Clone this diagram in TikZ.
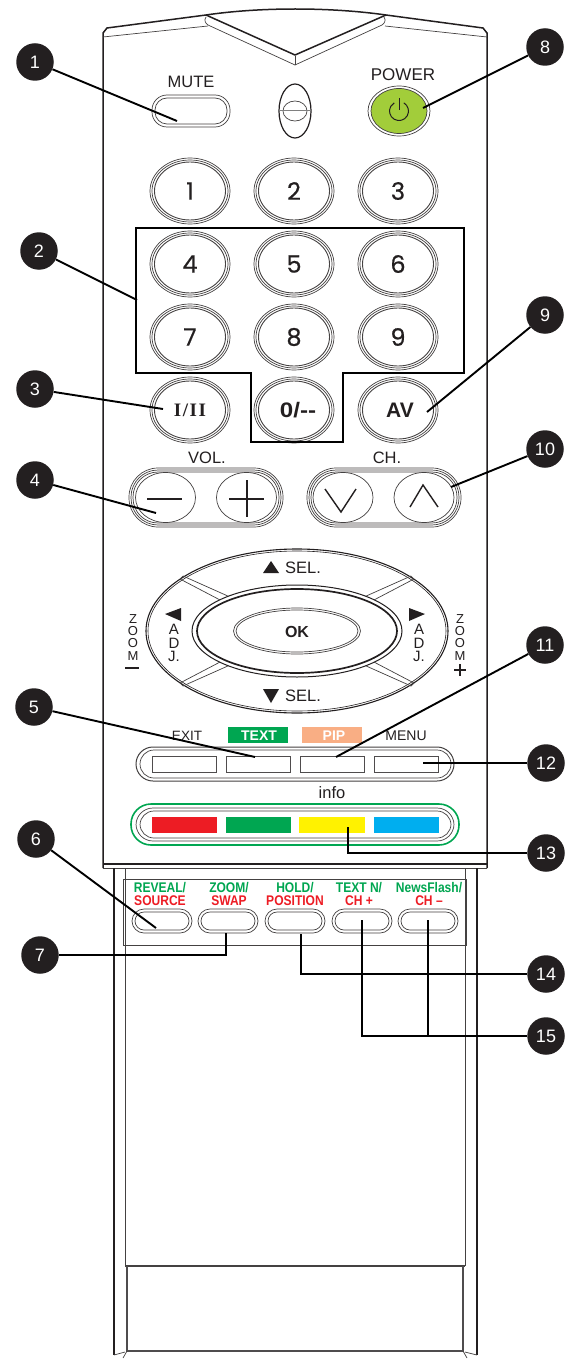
\documentclass[tikz,border=0pt]{standalone}
\usepackage{fontspec}
\setmainfont{Liberation Sans}
\newfontfamily\digitfont[FakeBold=0.5]{Poppins}
\newfontfamily\romfont[LetterSpace=8]{Liberation Serif}
\usetikzlibrary{shapes.geometric,calc}
\definecolor{ink}{HTML}{231F20}
\definecolor{greengr}{HTML}{00A651}
\definecolor{redgr}{HTML}{ED1C24}
\definecolor{pipc}{HTML}{F9AE84}
\definecolor{powc}{HTML}{A2CD3A}
\definecolor{yelc}{HTML}{FFF200}
\definecolor{bluc}{HTML}{00AEEF}
\tikzset{
  x=1pt,y=-1pt,
  body/.style={draw=ink,line width=1.5pt},
  thin line/.style={draw=ink!85,line width=.7pt},
  leader/.style={draw=black,line width=1.9pt},
  callout/.style={circle,fill=ink,text=white,minimum size=37.5pt,inner sep=0pt,font=\fontsize{18}{18}\selectfont},
  lab/.style={inner sep=0pt,text=ink,font=\fontsize{16.5}{16.5}\selectfont},
  labsmall/.style={inner sep=0pt,text=ink,font=\fontsize{14}{14}\selectfont},
  stacklab/.style={inner sep=0pt,text=ink,font=\fontsize{15}{12}\selectfont},
  numlab/.style={inner sep=0pt,text=ink,font=\fontsize{24}{24}\digitfont},
  glab/.style={inner sep=0pt,text=greengr,font=\fontsize{14}{14}\selectfont\bfseries,xscale=.86,transform shape},
  rlab/.style={inner sep=0pt,text=redgr,font=\fontsize{14}{14}\selectfont\bfseries,xscale=.86,transform shape},
  key/.style={draw=ink!80,line width=.9pt,fill=white},
}
\newcommand{\ringkey}[2]{%
  \draw[thin line] (#1,#2) ellipse [x radius=40,y radius=33];
  \draw[thin line] (#1,#2) ellipse [x radius=38,y radius=31];
  \draw[thin line,line width=.9pt] (#1,#2) ellipse [x radius=35.5,y radius=29];
}
\begin{document}
\begin{tikzpicture}
\useasboundingbox (0,0) rectangle (568,1359);
\fill[white] (0,0) rectangle (568,1359);

% housing
\draw[body] (103,868) -- (103,33) -- (107,28) -- (206,15) .. controls (260,7) and (330,7) .. (386,15) -- (483,28) -- (487,33) -- (487,868);
\draw[thin line] (103,37) -- (208,26);
\draw[thin line] (487,37) -- (385,26);
\draw[body] (206,15) -- (295,55) -- (386,15);
\draw[thin line] (206,17) .. controls (204,20) and (205,23) .. (208,25) -- (295,65) -- (382,25) .. controls (385,23) and (386,20) .. (384,17);
\draw[thin line] (295,56) -- (295,65);
\draw[body] (103,864) -- (487,864);
\draw[thin line] (103,868) -- (487,868);
\draw[body] (114,868) -- (114,1355);
\draw[body] (477,868) -- (477,1355);
\draw[thin line] (125,868) -- (125,1266);
\draw[thin line] (465,868) -- (465,1266);
\draw[thin line,line width=1pt] (123,879) rectangle (466,945);
\draw[thin line,line width=1.4pt] (125,1266) -- (465,1266);
\draw[body,draw=ink!80] (127,1266) -- (127,1351) -- (463,1351) -- (463,1266);
\draw[thin line] (127,1351) -- (123,1358);
\draw[thin line] (463,1351) -- (467,1358);
\draw[thin line] (114,1355) -- (125,1352);
\draw[thin line] (477,1355) -- (465,1352);

% top keys
\node[lab] (mutelab) at (191,82) {MUTE};
\draw[thin line,rounded corners=15pt] (152,95) rectangle (230,127);
\draw[thin line,rounded corners=12pt] (155,98) rectangle (227,124);
\draw[ink,line width=1.2pt] (295,111) ellipse [x radius=16,y radius=27];
\draw[thin line] (295,111) ellipse [x radius=12,y radius=10];
\draw[gray,line width=1pt] (279,111) -- (311,111);
\node[inner sep=0pt,text=ink,font=\fontsize{17}{17}\selectfont] (powerlab) at (403,75) {POWER};
\draw[thin line] (399,111) ellipse [x radius=31,y radius=25];
\draw[thin line,fill=powc] (399,111) ellipse [x radius=28,y radius=22.5];
\draw[ink,line width=1pt] (403.75,102.8) arc [start angle=-60,end angle=240,radius=9.5];
\draw[ink,line width=1pt] (399,98) -- (399,110);

% number pad
\foreach \px/\py/\pt in {190/191/1,294/191/2,398/191/3,190/264/4,294/264/5,398/264/6,190/337/7,294/337/8,398/337/9}{
  \ringkey{\px}{\py}
  \node[numlab] at (\px,\py) {\pt};
}
\ringkey{190}{410}\ringkey{294}{410}\ringkey{398}{410}
\node[inner sep=0pt,text=ink,font=\fontsize{19}{19}\romfont\bfseries] (k12) at (190,410) {I/II};
\node[inner sep=0pt,text=ink,font=\fontsize{21}{21}\selectfont\bfseries,xscale=1.15,transform shape] (k0) at (298,410) {0/-{}-};
\node[inner sep=0pt,text=ink,font=\fontsize{21}{21}\selectfont\bfseries] (kav) at (400,410) {AV};
\draw[draw=black,line width=2pt] (136,228) -- (464,228) -- (464,373) -- (343,373) -- (343,442) -- (251,442) -- (251,373) -- (136,373) -- cycle;

% vol / ch
\node[lab] (vollab) at (207,458) {VOL.};
\node[lab] (chlab) at (387,458) {CH.};
\foreach \xa/\xb/\xc/\xd in {129/283/165.5/246.5,307/461/343/424}{
  \draw[thin line,rounded corners=29pt] (\xa,468) rectangle (\xb,527);
  \draw[thin line,rounded corners=27pt] ({\xa+2},470) rectangle ({\xb-2},525);
  \draw[thin line,rounded corners=25pt] ({\xa+4},472) rectangle ({\xb-4},523);
  \draw[thin line] (\xc,497.5) ellipse [x radius=30,y radius=25];
  \draw[thin line] (\xd,497.5) ellipse [x radius=30,y radius=25];
}
\draw[ink,line width=1.4pt] (147,499) -- (182,499);
\draw[ink,line width=1.4pt] (229,499) -- (264,499) (247,480) -- (247,517);
\draw[ink,line width=1.4pt] (325,489) -- (341,512) -- (356,489);
\draw[ink,line width=1.4pt] (410,507) -- (423,485) -- (438,507);

% navigation
\draw[ink,line width=1.1pt] (297,631) ellipse [x radius=151,y radius=82];
\draw[ink,line width=.6pt] (297,631) ellipse [x radius=149,y radius=80];
\foreach \sx/\sy in {1/1,-1/1,1/-1,-1/-1}{
  \draw[thin line] ({297+\sx*117},{631+\sy*(-52)}) -- ({297+\sx*75},{631+\sy*(-30)});
  \draw[thin line] ({297+\sx*114},{631+\sy*(-55)}) -- ({297+\sx*67},{631+\sy*(-34)});
  \draw[thin line] ({297+\sx*117},{631+\sy*(-52)}) -- ({297+\sx*114},{631+\sy*(-55)});
}
\draw[ink,line width=1pt,fill=white] (297,631) ellipse [x radius=105,y radius=46];
\draw[ink,line width=1.7pt] (297,631) ellipse [x radius=100,y radius=42];
\draw[thin line] (297,631) ellipse [x radius=63.5,y radius=23];
\draw[thin line] (297,631) ellipse [x radius=61,y radius=21];
\node[inner sep=0pt,text=ink,font=\fontsize{16}{16}\selectfont\bfseries] (ok) at (297,632) {OK};
\fill[ink] (263,573) -- (279,573) -- (271,561) -- cycle;
\fill[ink] (263,689) -- (279,689) -- (271,703) -- cycle;
\node[lab,anchor=west] (selu) at (285,568) {SEL.};
\node[lab,anchor=west] (seld) at (285,696) {SEL.};
\fill[ink] (165,614) -- (181,608) -- (181,621) -- cycle;
\fill[ink] (425,614) -- (409,608) -- (409,621) -- cycle;
\foreach \lx in {174,419}{
  \node[stacklab] at (\lx,629.5) {A};
  \node[stacklab] at (\lx,643) {D};
  \node[stacklab] at (\lx,656.5) {J.};
}
\foreach \lx in {133,460}{
  \node[labsmall,font=\fontsize{13}{12}\selectfont] at (\lx,619) {Z};
  \node[labsmall,font=\fontsize{13}{12}\selectfont] at (\lx,631) {O};
  \node[labsmall,font=\fontsize{13}{12}\selectfont] at (\lx,643) {O};
  \node[labsmall,font=\fontsize{13}{12}\selectfont] at (\lx,656) {M};
}
\draw[ink,line width=1.6pt] (125,668) -- (139,668);
\draw[ink,line width=2pt] (454,670) -- (466,670) (460,664) -- (460,676);

% function row
\node[labsmall,font=\fontsize{13.5}{13.5}\selectfont] (exitlab) at (187,736) {EXIT};
\fill[greengr] (228,727) rectangle (288,743);
\node[inner sep=0pt,text=white,font=\fontsize{14}{14}\selectfont\bfseries] (textlab) at (259,736) {TEXT};
\fill[pipc] (302,727) rectangle (362,743);
\node[inner sep=0pt,text=white,font=\fontsize{14}{14}\selectfont\bfseries] (piplab) at (334,736) {PIP};
\node[labsmall] (menulab) at (406,736) {MENU};
\draw[thin line,line width=1pt,rounded corners=17pt] (136,747) rectangle (454,781);
\draw[thin line,rounded corners=14pt] (140,750) rectangle (451,778);
\foreach \kx in {152,226,300,374}{ \draw[key] (\kx,756) rectangle ({\kx+64},772); }
\node[lab] (infolab) at (332,793) {info};

% colour row
\draw[draw=greengr,line width=1.6pt,rounded corners=20pt] (131,804) rectangle (459,845);
\draw[thin line,rounded corners=17pt] (136,808) rectangle (454,841);
\draw[thin line,rounded corners=14pt] (140,811) rectangle (451,838);
\fill[redgr] (152,817) rectangle (217,833);
\fill[greengr] (226,817) rectangle (291,833);
\fill[yelc] (299,817) rectangle (365,833);
\fill[bluc] (374,817) rectangle (439,833);

% lower keys
\foreach \bx in {132,198,265,332,398}{
  \draw[thin line,rounded corners=12pt] (\bx,909) rectangle ({\bx+60},933);
  \draw[thin line,rounded corners=9pt] ({\bx+3},912) rectangle ({\bx+57},930);
}
\node[glab] (a1) at (160,888) {REVEAL/};
\node[rlab] (a2) at (160,901) {SOURCE};
\node[glab] (b1) at (229,888) {ZOOM/};
\node[rlab] (b2) at (229,901) {SWAP};
\node[glab] (c1) at (295,888) {HOLD/};
\node[rlab] (c2) at (295,901) {POSITION};
\node[glab] (d1) at (359,888) {TEXT N/};
\node[rlab] (d2) at (359,901) {CH +};
\node[glab] (e1) at (429,888) {NewsFlash/};
\node[rlab] (e2) at (429,901) {CH –};

% callouts
\foreach \cn/\cx/\cy in {1/35/62,2/39/251,3/35/389,4/35/480,5/34/707,6/36/839,7/40/955,8/545/47,9/545/315,10/545/449,11/545/645,12/546/763,13/546/853,14/546/974,15/546/1036}{
  \node[callout] (n\cn) at (\cx,\cy) {\cn};
}
\coordinate (t1) at (177,121);
\coordinate (t2) at (137,300);
\coordinate (t3) at (163,409);
\coordinate (t4) at (156,513);
\coordinate (t5) at (255,757);
\coordinate (t6) at (156,928);
\coordinate (t7) at (226,933);
\coordinate (t8) at (423,108);
\coordinate (t9) at (427,412);
\coordinate (t10) at (451,487);
\coordinate (t11) at (336,757);
\coordinate (t12) at (423,763);
\coordinate (t13) at (348,827);
\coordinate (t14) at (301,934);
\coordinate (t15a) at (362,920);
\coordinate (t15b) at (428,920);
\foreach \i in {1,2,3,4,5,6,8,9,10,11,12}{ \draw[leader] (n\i) -- (t\i); }
\draw[leader] (n7.east) -| (t7);
\draw[leader] (n13.west) -| (t13);
\draw[leader] (n14.west) -| (t14);
\draw[leader] (n15.west) -| (t15b);
\draw[leader] (n15.west) -| (t15a);
\end{tikzpicture}
\end{document}
